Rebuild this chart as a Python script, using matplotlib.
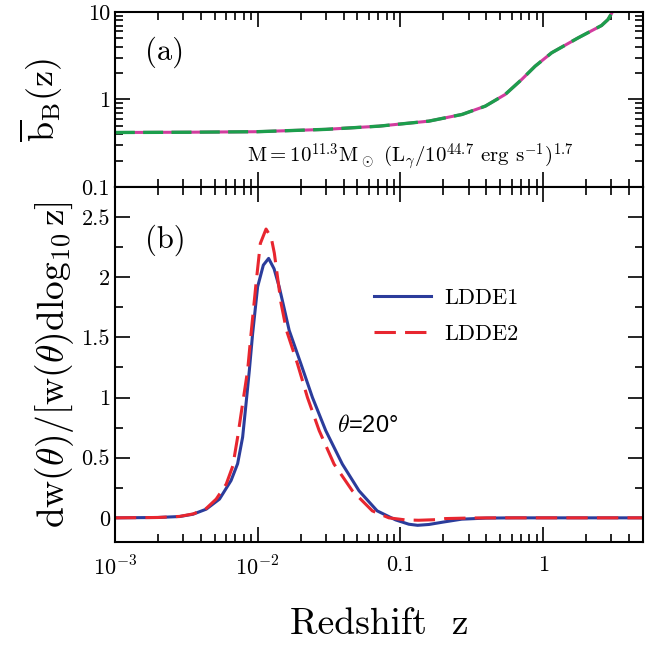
import numpy as np
import matplotlib
matplotlib.use('Agg')
import matplotlib.pyplot as plt
import matplotlib.ticker as ticker

plt.rcParams['font.family'] = ['cmr10', 'DejaVu Serif']
plt.rcParams['mathtext.fontset'] = 'cm'
plt.rcParams['axes.unicode_minus'] = False

# panel (a): mean bias vs redshift
z_bias = [0.001, 0.0033, 0.01, 0.03, 0.0706, 0.158, 0.27, 0.393, 0.541, 0.706,
          0.877, 1.146, 1.758, 2.56, 2.84, 3.05, 3.2]
b_bias = [0.419, 0.422, 0.428, 0.455, 0.495, 0.565, 0.674, 0.839, 1.14, 1.69,
          2.40, 3.42, 5.07, 7.01, 8.2, 10.0, 12.5]

# panel (b): dw/dlog z normalised
z_l1 = [0.001, 0.002, 0.002844, 0.003524, 0.004365, 0.005408, 0.006516, 0.007244,
        0.007852, 0.008299, 0.00875, 0.009226, 0.01, 0.010965, 0.01194, 0.013032,
        0.014158, 0.015346, 0.016634, 0.020091, 0.02421, 0.029992, 0.039174, 0.051286,
        0.068707, 0.09247, 0.11455, 0.13183, 0.15849, 0.19953,
        0.26853, 0.39811, 0.63096, 5.0]
w_l1 = [0.0, 0.003, 0.011, 0.03, 0.072, 0.156, 0.31, 0.45,
        0.67, 0.95, 1.225, 1.53, 1.92, 2.10, 2.156, 2.07,
        1.92, 1.74, 1.558, 1.28, 1.0, 0.725, 0.447, 0.225,
        0.058, -0.017, -0.053, -0.062, -0.055, -0.035,
        -0.011, -0.002, 0.0, 0.0]

z_l2 = [0.001, 0.002, 0.002844, 0.003548, 0.004365, 0.005129, 0.006026, 0.006699,
        0.007244, 0.007852, 0.008511, 0.008995, 0.00975, 0.010447, 0.011455, 0.012445,
        0.013092, 0.014555, 0.015922, 0.019011, 0.022336, 0.026977, 0.034277, 0.046026,
        0.063533, 0.082985, 0.10839, 0.13428, 0.17783, 0.20654,
        0.31623, 0.50119, 5.0]
w_l2 = [0.0, 0.003, 0.012, 0.033, 0.078, 0.156, 0.28, 0.43,
        0.67, 0.95, 1.225, 1.53, 1.95, 2.28, 2.40, 2.33,
        2.2, 1.79, 1.558, 1.28, 1.0, 0.725, 0.447, 0.225,
        0.058, 0.0, -0.017, -0.02, -0.015, -0.006,
        -0.001, 0.0, 0.0]

x_ticks = [1e-3, 1e-2, 0.1, 1]
x_ticklabels = [r'$10^{-3}$', r'$10^{-2}$', '0.1', '1']
yb_ticks = [0, 0.5, 1, 1.5, 2, 2.5]
yb_ticklabels = ['0', '0.5', '1', '1.5', '2', '2.5']

fig = plt.figure(figsize=(6.45, 6.49), dpi=100)
ax1 = fig.add_axes([0.178, 0.712, 0.819, 0.2695])
ax2 = fig.add_axes([0.178, 0.165, 0.819, 0.547])

for ax in (ax1, ax2):
    ax.set_xscale('log')
    ax.set_xlim(1e-3, 5)
    for sp in ax.spines.values():
        sp.set_linewidth(1.5)
    ax.tick_params(which='both', direction='in', top=True, right=True, width=1.2,
                   labelsize=16)
    ax.tick_params(which='major', length=11)
    ax.tick_params(which='minor', length=6)
    ax.xaxis.set_major_locator(ticker.FixedLocator(x_ticks))
    ax.xaxis.set_minor_locator(ticker.LogLocator(base=10, subs=np.arange(2, 10), numticks=20))

# top panel
ax1.plot(z_bias, b_bias, color='#d23c9e', lw=2.2)
ax1.plot(z_bias, b_bias, color='#1c9e4c', lw=2.4, dashes=(6, 2.5))
ax1.set_yscale('log')
ax1.set_ylim(0.1, 10)
ax1.yaxis.set_major_locator(ticker.FixedLocator([0.1, 1, 10]))
ax1.yaxis.set_major_formatter(ticker.FixedFormatter(['0.1', '1', '10']))
ax1.yaxis.set_minor_locator(ticker.LogLocator(base=10, subs=np.arange(2, 10), numticks=20))
ax1.yaxis.set_minor_formatter(ticker.NullFormatter())
ax1.tick_params(axis='x', labelbottom=False)
ax1.set_ylabel(r'$\overline{\mathrm{b}}_{\mathrm{B}}(\mathrm{z})$', fontsize=26, labelpad=12)
ax1.text(0.057, 0.77, '(a)', transform=ax1.transAxes, fontsize=22, va='center')
ax1.text(0.56, 0.17, r'M$=10^{11.3}$M$_\odot$ (L$_\gamma$/10$^{44.7}$ erg s$^{-1}$)$^{1.7}$',
         transform=ax1.transAxes, fontsize=15, ha='center', va='center')

# bottom panel
ax2.plot(z_l1, w_l1, color='#2b3c9b', lw=2.2, label='LDDE1')
ax2.plot(z_l2, w_l2, color='#e8262f', lw=2.2, dashes=(7, 3), label='LDDE2')
ax2.set_ylim(-0.2, 2.75)
ax2.yaxis.set_major_locator(ticker.FixedLocator(yb_ticks))
ax2.yaxis.set_major_formatter(ticker.FixedFormatter(yb_ticklabels))
ax2.yaxis.set_minor_locator(ticker.MultipleLocator(0.25))
ax2.xaxis.set_major_formatter(ticker.FixedFormatter(x_ticklabels))
ax2.xaxis.set_minor_formatter(ticker.NullFormatter())
ax2.tick_params(axis='x', pad=10)
ax2.set_ylabel(r'$\mathrm{dw}(\theta)/[\mathrm{w}(\theta)\mathrm{dlog}_{10}\,\mathrm{z}]$',
               fontsize=27, labelpad=4)
ax2.set_xlabel('Redshift  z', fontsize=27, labelpad=20)
ax2.text(0.057, 0.851, '(b)', transform=ax2.transAxes, fontsize=22, va='center')
ax2.text(0.42, 0.326, r'$\theta$=20°', transform=ax2.transAxes, fontsize=17, va='center',
         family=['Liberation Sans', 'DejaVu Sans'])
ax2.legend(loc='upper left', bbox_to_anchor=(0.49, 0.715), frameon=False, fontsize=16,
           handlelength=2.6, handletextpad=0.6, labelspacing=0.75,
           borderpad=0, borderaxespad=0)

fig.savefig('out.png', dpi=100)
